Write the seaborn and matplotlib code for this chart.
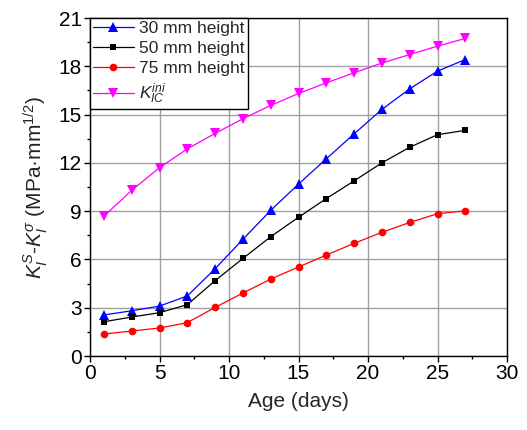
import matplotlib
matplotlib.use("Agg")
import matplotlib.pyplot as plt
from matplotlib.ticker import MultipleLocator
import seaborn as sns
import pandas as pd

# Age in days
age = [1, 3, 5, 7, 9, 11, 13, 15, 17, 19, 21, 23, 25, 27]

# Stress intensity difference for each specimen height (MPa·mm^1/2)
h30 = [2.55, 2.81, 3.10, 3.73, 5.42, 7.25, 9.05, 10.68, 12.25, 13.80, 15.32, 16.60, 17.70, 18.42]
h50 = [2.13, 2.42, 2.69, 3.19, 4.68, 6.06, 7.41, 8.62, 9.78, 10.88, 12.00, 12.97, 13.75, 14.02]
h75 = [1.37, 1.55, 1.74, 2.07, 3.02, 3.91, 4.78, 5.53, 6.27, 7.00, 7.68, 8.30, 8.84, 9.02]
kic_ini = [8.69, 10.29, 11.70, 12.87, 13.83, 14.74, 15.57, 16.31, 16.97, 17.60, 18.20, 18.73, 19.25, 19.73]

series_labels = ["30 mm height", "50 mm height", "75 mm height", r"$K_{IC}^{ini}$"]
x_ticks = [0, 5, 10, 15, 20, 25, 30]
y_ticks = [0, 3, 6, 9, 12, 15, 18, 21]

sns.set_theme(style="white")
plt.rcParams["font.family"] = ["Liberation Sans", "DejaVu Sans"]
plt.rcParams["mathtext.fontset"] = "custom"
plt.rcParams["mathtext.rm"] = "Liberation Sans"
plt.rcParams["mathtext.it"] = "Liberation Sans:italic"
plt.rcParams["mathtext.bf"] = "Liberation Sans:bold"

fig = plt.figure(figsize=(5.27, 4.30), dpi=100)
ax = fig.add_axes([90 / 527, (430 - 356) / 430, (507 - 90) / 527, (356 - 18) / 430])

styles = [
    (h30, "#0000ff", "^", 7.0),
    (h50, "#000000", "s", 5.0),
    (h75, "#ff0000", "o", 5.5),
    (kic_ini, "#ff00ff", "v", 7.0),
]
for (vals, color, marker, ms), label in zip(styles, series_labels):
    df = pd.DataFrame({"age": age, "value": vals})
    sns.lineplot(data=df, x="age", y="value", ax=ax, color=color, marker=marker,
                 markersize=ms, markeredgewidth=0, linewidth=0.9, label=label)

ax.set_xlim(0, 30)
ax.set_ylim(0, 21)
ax.set_xticks(x_ticks)
ax.set_yticks(y_ticks)
ax.xaxis.set_minor_locator(MultipleLocator(2.5))
ax.yaxis.set_minor_locator(MultipleLocator(1.5))
ax.grid(True, which="major", color="#a0a0a0", linewidth=1.0)
ax.set_axisbelow(True)

for sp in ax.spines.values():
    sp.set_visible(True)
    sp.set_color("black")
    sp.set_linewidth(1.0)

ax.tick_params(which="major", direction="out", length=4, width=1.0, colors="black",
               labelsize=15, pad=2, bottom=True, left=True)
ax.tick_params(which="minor", direction="out", length=2.5, width=1.0, colors="black",
               bottom=True, left=True)

ax.set_xlabel("Age (days)", fontsize=15, labelpad=6)
ax.set_ylabel(r"$K_I^S$-$K_I^{\sigma}$ (MPa·mm$^{1/2}$)", fontsize=15, labelpad=6)

leg = ax.legend(loc="upper left", bbox_to_anchor=(0, 1), borderaxespad=0,
                fontsize=12.5, frameon=True, fancybox=False, shadow=False,
                handlelength=2.4, handletextpad=0.3, labelspacing=0.3,
                borderpad=0.15, framealpha=1)
leg.get_frame().set_edgecolor("black")
leg.get_frame().set_linewidth(1.0)

fig.savefig("out.png", dpi=100)
